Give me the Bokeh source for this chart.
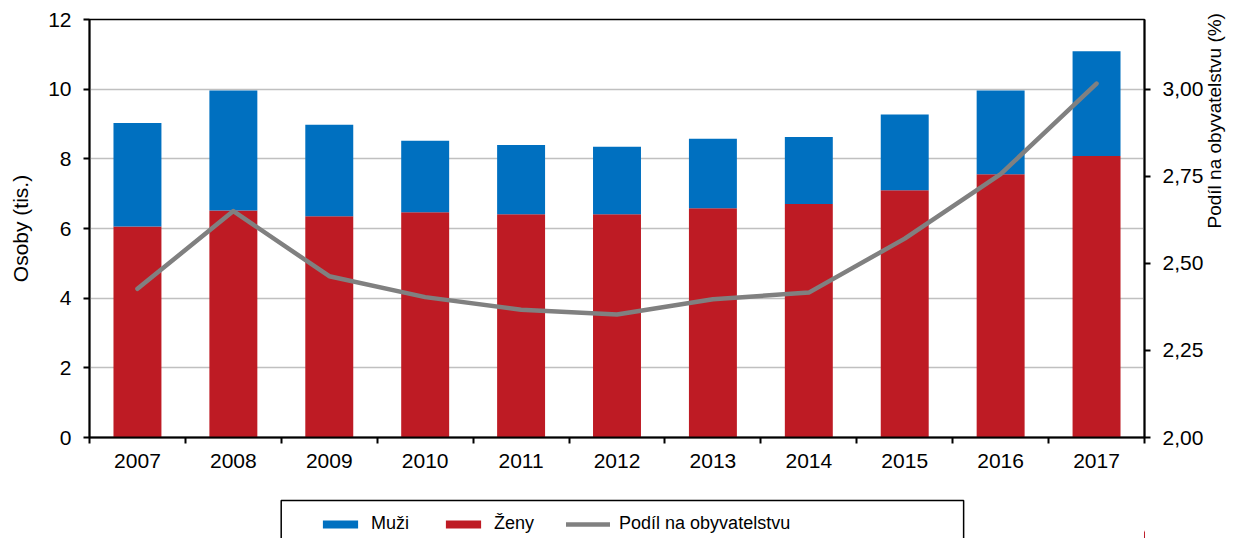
import math
from bokeh.plotting import figure
from bokeh.layouts import column
from bokeh.models import (Range1d, LinearAxis, FixedTicker, CustomJSTickFormatter,
                          Legend, LegendItem, BoxAnnotation, ColumnDataSource)
from bokeh.embed import file_html
from bokeh.resources import INLINE

# ---- data ----
years = [2007, 2008, 2009, 2010, 2011, 2012, 2013, 2014, 2015, 2016, 2017]
zeny = [6.06, 6.52, 6.35, 6.47, 6.41, 6.41, 6.58, 6.70, 7.10, 7.56, 8.08]
muzi = [2.97, 3.44, 2.63, 2.05, 1.99, 1.94, 2.00, 1.93, 2.17, 2.40, 3.01]
podil = [2.427, 2.650, 2.463, 2.403, 2.367, 2.353, 2.397, 2.416, 2.571, 2.756, 3.016]
left_ticks = [0, 2, 4, 6, 8, 10, 12]
right_ticks = [2.00, 2.25, 2.50, 2.75, 3.00]
series_labels = ["Muži", "Ženy", "Podíl na obyvatelstvu"]
left_title = "Osoby (tis.)"
right_title = "Podíl na obyvatelstvu (%)"

FONT = "Liberation Sans"
BLUE = "#0070C0"
RED = "#BE1B24"
GRAY = "#808080"

src = ColumnDataSource(dict(year=years, zeny=zeny, muzi=muzi))

chart = figure(width=1240, height=490, output_backend="svg", toolbar_location=None,
               x_range=Range1d(years[0] - 0.5, years[-1] + 0.5), y_range=Range1d(0, 12),
               min_border_left=89, min_border_right=96, min_border_top=19, min_border_bottom=53)
chart.extra_y_ranges = {"pct": Range1d(2.0, 3.2)}

chart.vbar_stack(["zeny", "muzi"], x="year", width=0.5, color=[RED, BLUE],
                 line_color=None, source=src)
chart.line(x=years, y=podil, y_range_name="pct", line_color=GRAY, line_width=4.5,
           line_cap="round", line_join="round")

chart.outline_line_color = "black"
chart.outline_line_width = 1.5
chart.xgrid.grid_line_color = None
chart.ygrid.ticker = FixedTicker(ticks=left_ticks)
chart.ygrid.grid_line_color = "#C0C0C0"
chart.ygrid.grid_line_width = 1.5

xa = chart.xaxis[0]
xa.ticker = FixedTicker(ticks=years, minor_ticks=[y - 0.5 for y in years] + [years[-1] + 0.5])
xa.major_tick_line_color = None
xa.minor_tick_line_color = "black"
xa.minor_tick_line_width = 2
xa.minor_tick_out = 6
xa.minor_tick_in = 0
xa.major_label_standoff = 10

ya = chart.yaxis[0]
ya.ticker = FixedTicker(ticks=left_ticks)
ya.axis_label = left_title
ya.major_label_standoff = 12
ya.axis_label_standoff = 13

ra = LinearAxis(y_range_name="pct", ticker=FixedTicker(ticks=right_ticks),
                formatter=CustomJSTickFormatter(code="return tick.toFixed(2).replace('.', ',');"))
chart.add_layout(ra, "right")

# label-only axis on the right, title reading bottom-to-top
rl = LinearAxis(y_range_name="pct", ticker=FixedTicker(ticks=[]),
                axis_line_color=None, major_tick_line_color=None, minor_tick_line_color=None,
                major_label_text_font_size="0px", major_label_standoff=0,
                major_tick_out=0, major_tick_in=0,
                axis_label=right_title, axis_label_orientation=math.pi / 2,
                axis_label_standoff=8)
chart.add_layout(rl, "right")

for ax in [xa, ya, ra]:
    ax.axis_line_color = "black"
    ax.axis_line_width = 2
    ax.major_label_text_font = FONT
    ax.major_label_text_font_size = "21px"
    ax.major_label_text_color = "black"
for ax in [ya, rl]:
    ax.axis_label_text_font = FONT
    ax.axis_label_text_font_style = "normal"
    ax.axis_label_text_color = "black"
ya.axis_label_text_font_size = "21px"
rl.axis_label_text_font_size = "19px"
for ax in [ya, ra]:
    ax.major_tick_line_color = "black"
    ax.major_tick_line_width = 2
    ax.major_tick_out = 6
    ax.major_tick_in = 0
    ax.minor_tick_line_color = None
ra.major_label_standoff = 12

# ---- legend strip below the chart (its frame is aligned with the chart frame) ----
leg = figure(width=1240, height=48, output_backend="svg", toolbar_location=None,
             x_axis_type=None, y_axis_type=None,
             x_range=Range1d(90.7, 1143.5), y_range=Range1d(0, 48), min_border=0)
leg.outline_line_color = None
# the legend swatches come from the series renderers, kept out of view on their own range
leg.extra_x_ranges = {"series": Range1d(0, 1)}
leg_src = ColumnDataSource(dict(year=years, zeny=zeny, muzi=muzi, podil=podil))
k_muzi = leg.vbar(x="year", top="muzi", width=0.5, color=BLUE, line_color=None,
                  source=leg_src, x_range_name="series")
k_zeny = leg.vbar(x="year", top="zeny", width=0.5, color=RED, line_color=None,
                  source=leg_src, x_range_name="series")
k_line = leg.line(x="year", y="podil", line_color=GRAY, line_width=4.5, line_cap="round",
                  source=leg_src, x_range_name="series")

legend = Legend(items=[LegendItem(label=series_labels[0], renderers=[k_muzi]),
                       LegendItem(label=series_labels[1], renderers=[k_zeny]),
                       LegendItem(label=series_labels[2], renderers=[k_line])],
                orientation="horizontal", location=(229, 4), margin=0,
                glyph_width=44, glyph_height=10, label_standoff=9,
                spacing=32, padding=5,
                border_line_color=None, background_fill_alpha=0,
                label_text_font=FONT, label_text_font_size="18px",
                label_text_color="black")
leg.add_layout(legend, "center")
leg.add_layout(BoxAnnotation(left=282, right=963, top=38, bottom=-10,
                             fill_alpha=0, line_color="black", line_alpha=1, line_width=1.5))

p = column(chart, leg, spacing=0)

open("out.html", "w").write(file_html(p, INLINE))
